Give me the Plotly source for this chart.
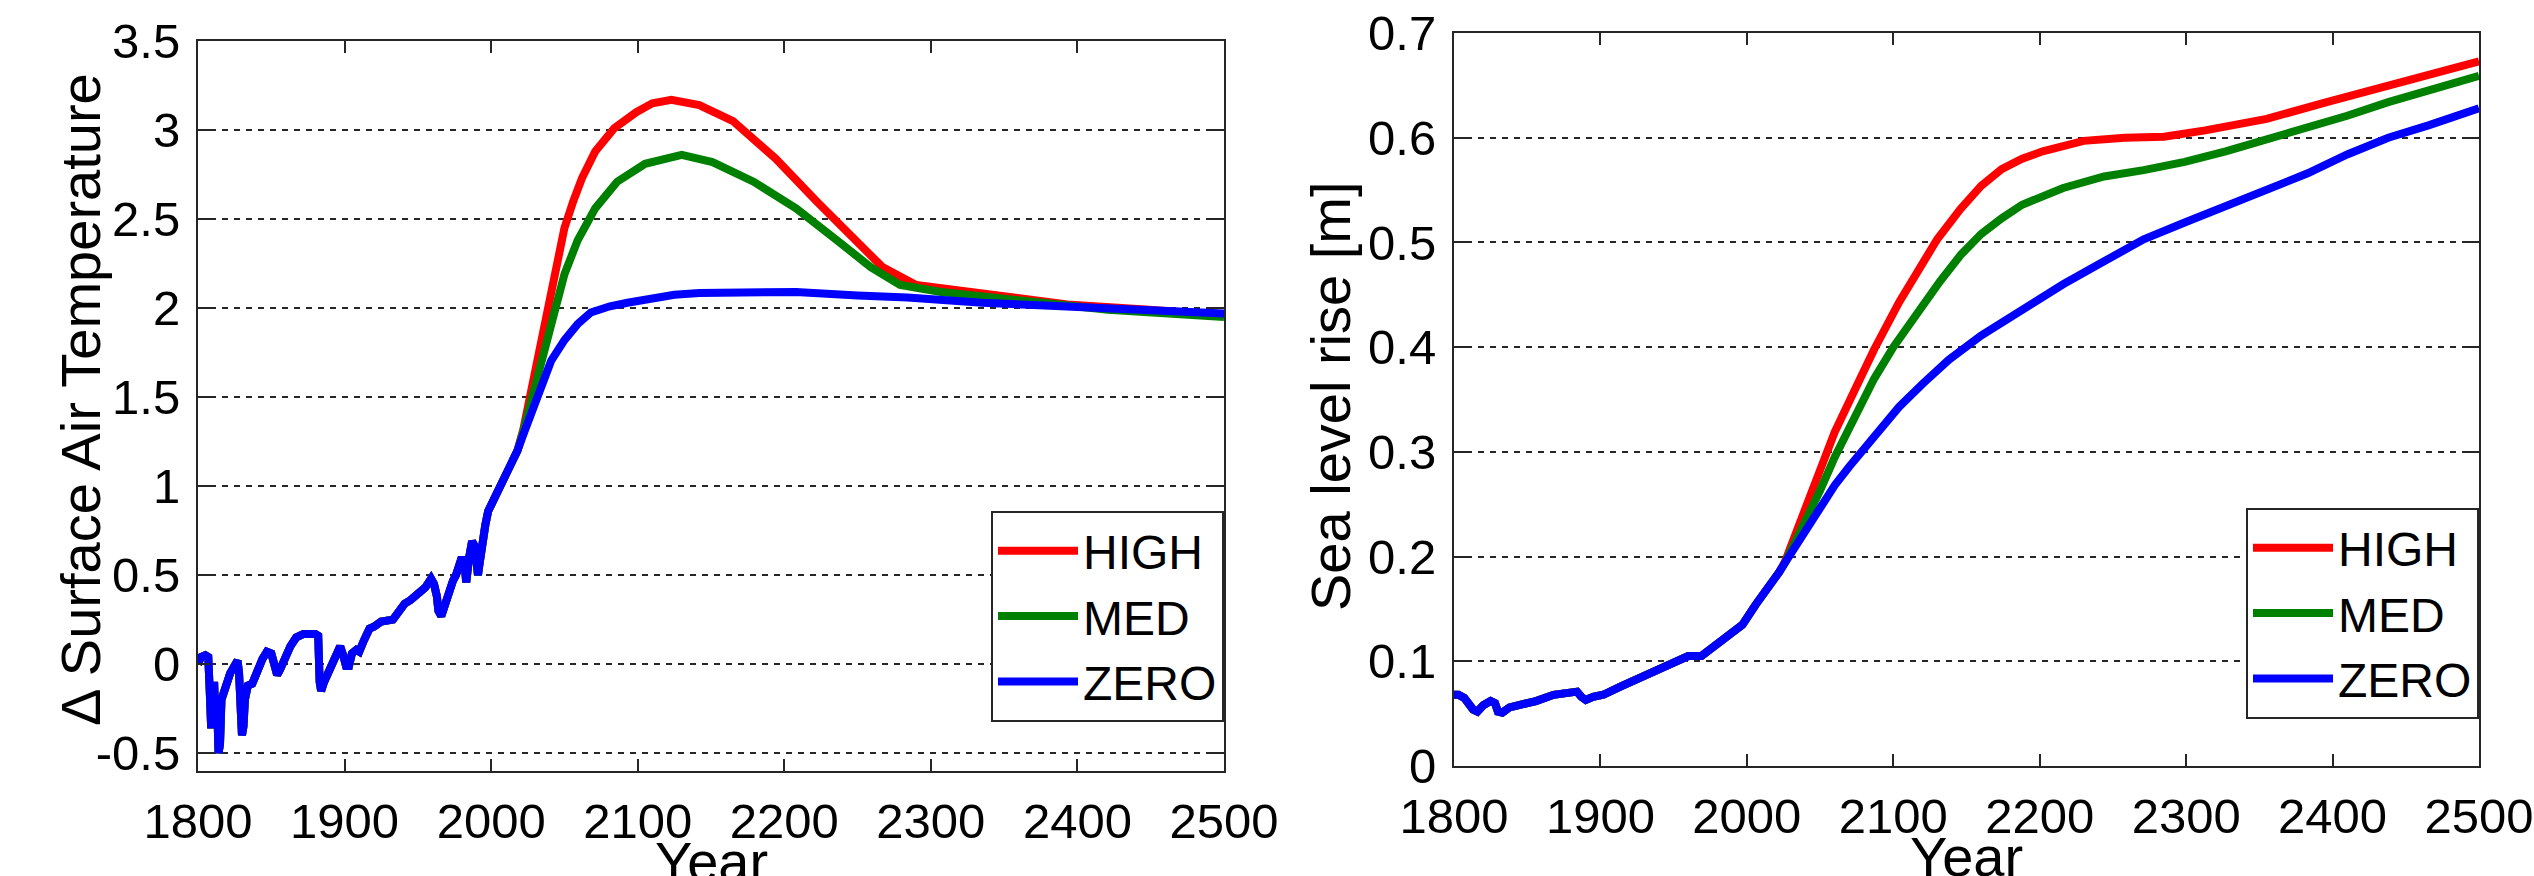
import plotly.graph_objects as go

# ---------------- data: temperature ----------------
T_hist_years = [1800, 1802, 1805, 1807, 1808, 1809, 1811, 1812, 1813, 1814, 1815, 1816, 1818, 1820,
                1822, 1825, 1827, 1828, 1829, 1830, 1831, 1832, 1834, 1837, 1839, 1841, 1844, 1847,
                1850, 1852, 1854, 1856, 1859, 1863, 1867, 1872, 1880, 1882, 1883, 1884, 1886, 1889,
                1892, 1895, 1897, 1899, 1901, 1903, 1905, 1908, 1910, 1913, 1917, 1920, 1925, 1933,
                1937, 1941, 1945, 1950, 1955, 1959, 1961, 1963, 1964, 1966, 1968, 1971, 1974, 1976,
                1978, 1980, 1982, 1983, 1985, 1987, 1989, 1990, 1991, 1992, 1994, 1996, 1998, 2001,
                2005, 2010, 2015, 2018]
T_hist = [0.0, 0.04, 0.05, 0.04, -0.15, -0.36, -0.1, -0.35, -0.2, -0.5, -0.45, -0.2, -0.13, -0.1,
          -0.05, 0.0, 0.02, -0.05, -0.3, -0.4, -0.35, -0.2, -0.12, -0.11, -0.07, -0.02, 0.03, 0.07,
          0.06, 0.0, -0.06, -0.03, 0.03, 0.1, 0.15, 0.17, 0.17, 0.16, -0.1, -0.15, -0.1, -0.05,
          0.02, 0.07, 0.1, 0.05, -0.01, -0.01, 0.06, 0.08, 0.07, 0.13, 0.2, 0.21, 0.24, 0.25,
          0.3, 0.34, 0.36, 0.4, 0.43, 0.48, 0.45, 0.38, 0.3, 0.27, 0.33, 0.41, 0.47, 0.5,
          0.57, 0.6, 0.55, 0.46, 0.6, 0.69, 0.66, 0.53, 0.5, 0.56, 0.7, 0.78, 0.86, 0.91,
          0.98, 1.05, 1.15, 1.2]

T_high_years = [2022, 2026, 2032, 2038, 2044, 2050, 2056, 2062, 2071, 2084, 2099, 2110, 2123, 2142,
                2165, 2194, 2222, 2250, 2267, 2290, 2307, 2350, 2393, 2449, 2500]
T_high = [1.32, 1.48, 1.76, 2.0, 2.25, 2.45, 2.6, 2.73, 2.88, 3.01, 3.10, 3.15, 3.17, 3.14,
          3.05, 2.84, 2.60, 2.36, 2.23, 2.13, 2.11, 2.07, 2.02, 1.99, 1.96]

T_med_years = [2022, 2027, 2032, 2041, 2050, 2059, 2071, 2086, 2105, 2130, 2151, 2179, 2208, 2236,
               2259, 2279, 2307, 2364, 2421, 2500]
T_med = [1.31, 1.47, 1.63, 1.93, 2.19, 2.38, 2.56, 2.71, 2.81, 2.86, 2.82, 2.71, 2.56, 2.38,
         2.23, 2.13, 2.09, 2.04, 1.99, 1.95]

T_zero_years = [2022, 2027, 2032, 2036, 2041, 2050, 2059, 2068, 2081, 2093, 2108, 2125, 2142, 2208,
                2250, 2284, 2335, 2393, 2449, 2500]
T_zero = [1.29, 1.40, 1.52, 1.62, 1.705, 1.82, 1.91, 1.975, 2.01, 2.03, 2.05, 2.075, 2.085, 2.09,
          2.07, 2.06, 2.03, 2.01, 1.99, 1.97]

# ---------------- data: sea level ----------------
SL_hist_years = [1800, 1803, 1807, 1810, 1813, 1816, 1820, 1825, 1828, 1830, 1833, 1838, 1847, 1856,
                 1868, 1878, 1884, 1887, 1890, 1895, 1902, 1914, 1930, 1948, 1960, 1969, 1982, 1991,
                 1997, 2006, 2015, 2022]
SL_hist = [0.068, 0.068, 0.065, 0.058, 0.054, 0.052, 0.058, 0.062, 0.06, 0.052, 0.051, 0.056, 0.059,
           0.062, 0.068, 0.071, 0.071, 0.066, 0.063, 0.066, 0.068, 0.076, 0.086, 0.097, 0.105, 0.105,
           0.119, 0.127, 0.135, 0.154, 0.170, 0.185]

SL_high_years = [2026, 2035, 2045, 2053, 2060, 2074, 2087, 2104, 2118, 2130, 2146, 2160, 2174, 2188,
                 2202, 2230, 2258, 2285, 2313, 2355, 2396, 2438, 2466, 2500]
SL_high = [0.195, 0.228, 0.267, 0.296, 0.319, 0.36, 0.398, 0.443, 0.476, 0.503, 0.532, 0.554, 0.57, 0.58,
           0.587, 0.597, 0.60, 0.601, 0.607, 0.618, 0.634, 0.65, 0.661, 0.673]

SL_med_years = [2026, 2040, 2050, 2060, 2074, 2087, 2100, 2118, 2132, 2146, 2160, 2174, 2188, 2216,
                2244, 2271, 2299, 2327, 2355, 2383, 2410, 2438, 2466, 2500]
SL_med = [0.194, 0.232, 0.263, 0.295, 0.336, 0.37, 0.40, 0.436, 0.463, 0.488, 0.508, 0.523, 0.536, 0.552,
          0.563, 0.569, 0.577, 0.587, 0.598, 0.61, 0.621, 0.634, 0.645, 0.659]

SL_zero_years = [2026, 2040, 2050, 2060, 2070, 2080, 2090, 2104, 2120, 2138, 2160, 2188, 2216,
                 2244, 2271, 2299, 2327, 2355, 2383, 2410, 2438, 2466, 2500]
SL_zero = [0.194, 0.225, 0.248, 0.268, 0.286, 0.303, 0.320, 0.343, 0.365, 0.388, 0.411, 0.436, 0.46,
           0.482, 0.503, 0.519, 0.534, 0.55, 0.566, 0.584, 0.60, 0.612, 0.628]

scenario_names = ["HIGH", "MED", "ZERO"]
scenario_colors = ["#FF0000", "#008000", "#0000FF"]

x_ticks = [1800, 1900, 2000, 2100, 2200, 2300, 2400, 2500]
T_ticks = [-0.5, 0, 0.5, 1, 1.5, 2, 2.5, 3, 3.5]
T_ticktext = ["-0.5", "0", "0.5", "1", "1.5", "2", "2.5", "3", "3.5"]
SL_ticks = [0, 0.1, 0.2, 0.3, 0.4, 0.5, 0.6, 0.7]
SL_ticktext = ["0", "0.1", "0.2", "0.3", "0.4", "0.5", "0.6", "0.7"]

# ---------------- figure ----------------
W, H = 2534, 876
FONT = "Liberation Sans, Arial, Helvetica, sans-serif"
AX = "#262626"

fig = go.Figure()

T_series = [(T_high_years, T_high), (T_med_years, T_med), (T_zero_years, T_zero)]
SL_series = [(SL_high_years, SL_high), (SL_med_years, SL_med), (SL_zero_years, SL_zero)]

for name, col, (yrs, vals) in zip(scenario_names, scenario_colors, T_series):
    fig.add_trace(go.Scatter(x=T_hist_years + yrs, y=T_hist + vals, mode="lines", name=name,
                             line=dict(color=col, width=8), xaxis="x", yaxis="y", legend="legend"))
for name, col, (yrs, vals) in zip(scenario_names, scenario_colors, SL_series):
    fig.add_trace(go.Scatter(x=SL_hist_years + yrs, y=SL_hist + vals, mode="lines", name=name,
                             line=dict(color=col, width=8), xaxis="x2", yaxis="y2", legend="legend2"))

common_axis = dict(showline=True, linecolor=AX, linewidth=2, mirror="allticks",
                   ticks="inside", ticklen=12, tickwidth=2, tickcolor=AX, automargin=False,
                   zeroline=False, tickfont=dict(family=FONT, size=49, color="black"))

xa = dict(common_axis, range=[1800, 2500], tickvals=x_ticks, showgrid=False, ticklabelstandoff=6)
ya_grid = dict(showgrid=True, gridcolor=AX, gridwidth=1.6, griddash="6px,6px", ticklabelstandoff=6)

fig.update_layout(
    width=W, height=H,
    margin=dict(l=0, r=0, t=0, b=0, pad=0, autoexpand=False),
    paper_bgcolor="white", plot_bgcolor="white",
    font=dict(family=FONT, color="black"),
    xaxis=dict(xa, domain=[198 / W, 1224 / W], anchor="y"),
    yaxis=dict(common_axis, **ya_grid, domain=[1 - 771 / H, 1 - 41 / H], range=[-0.6, 3.5],
               tickvals=T_ticks, ticktext=T_ticktext, anchor="x"),
    xaxis2=dict(xa, domain=[1454 / W, 2479 / W], anchor="y2"),
    yaxis2=dict(common_axis, **ya_grid, domain=[1 - 766 / H, 1 - 33 / H], range=[0, 0.7],
                tickvals=SL_ticks, ticktext=SL_ticktext, anchor="x2"),
    legend=dict(x=1224 / W, y=1 - 722 / H, xanchor="right", yanchor="bottom",
                bgcolor="white", bordercolor=AX, borderwidth=2, itemwidth=80, tracegroupgap=0,
                font=dict(family=FONT, size=48, color="black")),
    legend2=dict(x=2479 / W, y=1 - 719 / H, xanchor="right", yanchor="bottom",
                 bgcolor="white", bordercolor=AX, borderwidth=2, itemwidth=80, tracegroupgap=0,
                 font=dict(family=FONT, size=48, color="black")),
    showlegend=True,
)

title_font = dict(family=FONT, size=56, color="black")
fig.add_annotation(text="Δ Surface Air Temperature", xref="paper", yref="paper",
                   x=80 / W, y=1 - 400 / H, textangle=-90, showarrow=False,
                   xanchor="center", yanchor="middle", font=title_font)
fig.add_annotation(text="Year", xref="paper", yref="paper", x=711 / W, y=1 - 861 / H,
                   showarrow=False, xanchor="center", yanchor="middle", font=title_font)
fig.add_annotation(text="Sea level rise [m]", xref="paper", yref="paper",
                   x=1330 / W, y=1 - 396 / H, textangle=-90, showarrow=False,
                   xanchor="center", yanchor="middle", font=title_font)
fig.add_annotation(text="Year", xref="paper", yref="paper", x=1966 / W, y=1 - 856 / H,
                   showarrow=False, xanchor="center", yanchor="middle", font=title_font)

fig.write_html("out.html", config={"displayModeBar": False},
               post_script="document.body.style.margin='0';document.body.style.overflow='hidden';")
